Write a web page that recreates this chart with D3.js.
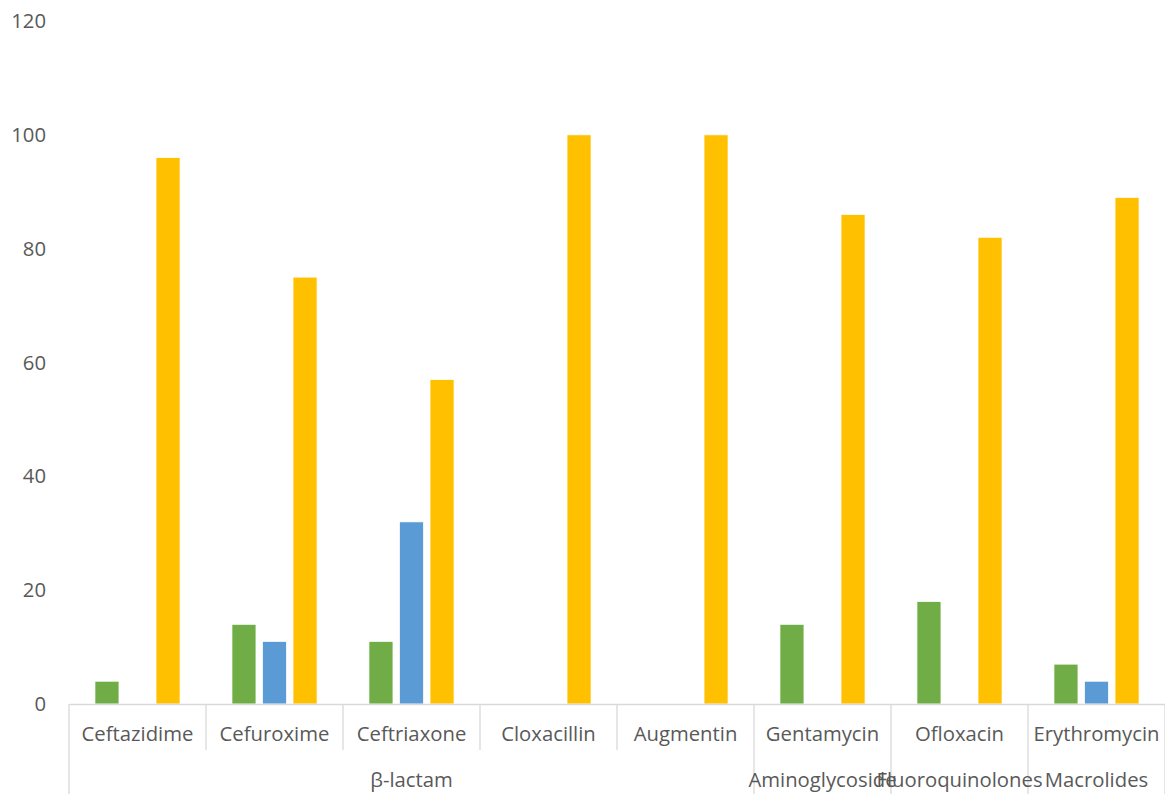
<!DOCTYPE html>
<html>
<head>
<meta charset="utf-8">
<script src="https://cdn.jsdelivr.net/npm/d3@7"></script>
<style>
  html, body { margin: 0; padding: 0; background: #fff; }
  svg text { font-family: "Open Sans", "Noto Sans", sans-serif; fill: #595959; }
</style>
</head>
<body>
<svg id="chart" width="1165" height="794"></svg>
<script>
// Antibiotic classes and the agents in each
const categories = ["Ceftazidime", "Cefuroxime", "Ceftriaxone", "Cloxacillin", "Augmentin",
                    "Gentamycin", "Ofloxacin", "Erythromycin"];
const groups = [
  { name: "β-lactam", from: 0, to: 4 },
  { name: "Aminoglycoside", from: 5, to: 5 },
  { name: "Fluoroquinolones", from: 6, to: 6 },
  { name: "Macrolides", from: 7, to: 7 }
];
const seriesNames = ["S1", "S2", "S3"];
const seriesGreen  = [4, 14, 11, 0, 0, 14, 18, 7];
const seriesBlue   = [0, 11, 32, 0, 0, 0, 0, 4];
const seriesYellow = [96, 75, 57, 100, 100, 86, 82, 89];
const seriesColors = ["#70AD47", "#5B9BD5", "#FFC000"];
const yTicks = [0, 20, 40, 60, 80, 100, 120];

const values = [seriesGreen, seriesBlue, seriesYellow];

const svg = d3.select("#chart");
const plotLeft = 69, plotRight = 1165, plotTop = 21, plotBottom = 704;
const fontSize = "20.3px";

const x0 = d3.scaleBand().domain(categories).range([plotLeft, plotRight]).padding(0);
const x1 = d3.scaleBand().domain(seriesNames).range([0, x0.bandwidth()])
  .paddingInner(0.213).paddingOuter(0.85);
const y = d3.scaleLinear().domain([0, 120]).range([plotBottom, plotTop]);

// y tick labels (no axis line, no gridlines)
const yAxis = d3.axisLeft(y).tickValues(yTicks).tickSize(0).tickPadding(0);
const yg = svg.append("g").attr("transform", "translate(46,0)").call(yAxis);
yg.select(".domain").remove();
yg.selectAll("text").style("font-size", fontSize).attr("fill", "#595959")
  .style("font-family", "'Open Sans', sans-serif");

// bars
const catG = svg.append("g").selectAll("g").data(categories).join("g")
  .attr("transform", d => `translate(${x0(d)},0)`);
catG.selectAll("rect")
  .data((c, i) => seriesNames.map((s, k) => ({ s, k, v: values[k][i] })).filter(d => d.v > 0))
  .join("rect")
  .attr("x", d => x1(d.s))
  .attr("width", x1.bandwidth())
  .attr("y", d => y(d.v))
  .attr("height", d => y(0) - y(d.v))
  .attr("fill", d => seriesColors[d.k])
  .attr("stroke", "#fff")
  .attr("stroke-width", 0.75);

// category axis
const xAxis = d3.axisBottom(x0).tickSize(0).tickPadding(0);
const xg = svg.append("g").attr("transform", `translate(0,${plotBottom})`).call(xAxis);
xg.select(".domain").attr("stroke", "#d9d9d9").attr("stroke-width", 1.3);
xg.selectAll(".tick text").attr("y", 31).attr("dy", "0.32em")
  .style("font-size", fontSize).attr("fill", "#595959")
  .style("font-family", "'Open Sans', sans-serif");

// category separators
const lineCol = "#d9d9d9";
const bounds = categories.map(c => x0(c)).concat([plotRight]);
const groupEdges = new Set([0, ...groups.map(g => g.to + 1)]);
bounds.forEach((bx, i) => {
  const full = groupEdges.has(i);
  svg.append("line")
    .attr("x1", bx).attr("x2", bx)
    .attr("y1", plotBottom).attr("y2", full ? 794 : 750)
    .attr("stroke", lineCol).attr("stroke-width", 1.3);
});

// group labels
svg.append("g").selectAll("text").data(groups).join("text")
  .attr("x", g => (x0(categories[g.from]) + x0(categories[g.to]) + x0.bandwidth()) / 2)
  .attr("y", 781).attr("dy", "0.32em").attr("text-anchor", "middle")
  .style("font-size", fontSize)
  .text(g => g.name);
</script>
</body>
</html>
